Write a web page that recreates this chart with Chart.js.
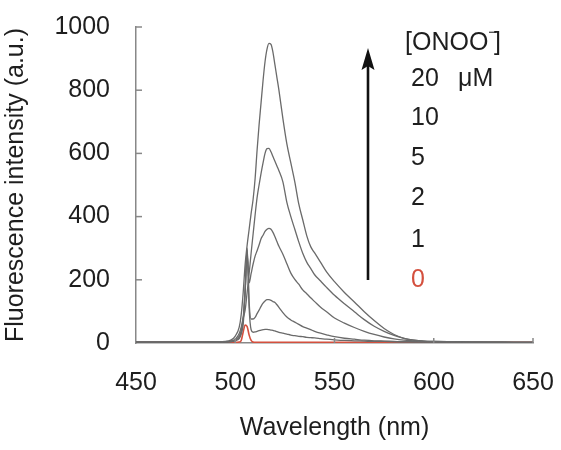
<!DOCTYPE html>
<html>
<head>
<meta charset="utf-8">
<script src="https://cdn.jsdelivr.net/npm/chart.js@4/dist/chart.umd.min.js"></script>
<style>
html,body{margin:0;padding:0;background:#fff;}
#wrap{width:561px;height:450px;}
</style>
</head>
<body>
<div id="wrap"><canvas id="c" width="561" height="450"></canvas></div>
<script>
const wavelengths = [450,460,470,480,490,495,498,500,502,503,504,505,506,507,508,509,510,511,512,513,514,515,516,517,518,519,520,521,522,524,526,528,530,532,534,536,538,540,543,546,550,555,560,565,570,575,580,585,590,595,600,610,620,630,640,650];

const conc20 = [3,3,3,3,4,5,10,22,50,90,160,250,310,360,410,455,520,610,690,760,830,890,930,948,945,920,880,840,800,710,630,570,510,440,390,340,305,285,255,225,194,160,130,99,71,46,27,15,9,6,5,4,3,3,2,2];
const conc10 = [3,3,3,3,3,4,7,12,30,50,80,105,160,220,285,345,405,460,500,537,570,600,615,616,605,590,575,560,545,510,445,400,360,320,284,256,236,216,196,176,151,124,99,74,53,37,24,15,9,6,5,4,3,3,2,2];
const conc5  = [3,3,3,3,3,3,6,10,22,40,80,170,280,190,220,250,275,292,310,330,341,353,360,363,360,350,336,321,306,281,251,221,201,186,168,156,143,131,113,99,79,63,49,37,27,19,13,9,7,5,4,4,3,3,2,2];
const conc2  = [3,3,3,3,3,3,5,8,18,32,70,170,300,130,76,76,81,93,104,116,126,133,137,137,135,131,128,121,113,96,82,73,66,59,52,47,42,37,31,26,20,15,12,9,7,6,5,4,4,3,3,3,3,2,2,2];
const conc1  = [3,3,3,3,3,3,4,7,14,28,60,160,295,110,42,34,35,37,39,41,42,43,43,42,41,40,38,36,34,31,28,25,23,21,20,18,17,16,14,12,10,8,7,6,5,5,4,4,3,3,3,3,2,2,2,2];
const conc0  = [2,2,2,2,2,2,2,2,3,8,35,57,52,25,8,3,2,2,2,2,2,2,2,2,2,2,2,2,2,2,2,2,2,2,2,2,2,2,2,2,2,2,2,2,2,2,2,2,2,2,2,2,2,2,2,2];

const seriesLabels = ["20","10","5","2","1","0"];
const xTicks = [450,500,550,600,650];
const yTicks = [0,200,400,600,800,1000];

function pts(vals){ return wavelengths.map((w,i)=>({x:w,y:vals[i]})); }

const GRAY = '#6a6a6a';
const RED = '#d4503e';
const TXT = '#1e1e1e';
const FONT = 'Liberation Sans, Arial, sans-serif';
const FS = 25;

const mk = (label, vals, color, w) => ({
  label, data: pts(vals), borderColor: color, borderWidth: w,
  pointRadius: 0, fill: false, cubicInterpolationMode: 'monotone'
});

const overlay = {
  id: 'overlay',
  afterDraw(chart){
    const ctx = chart.ctx;
    const xs = chart.scales.x, ys = chart.scales.y;
    ctx.save();
    ctx.strokeStyle = '#888'; ctx.lineWidth = 1.5;
    yTicks.forEach(v=>{ if(v===0) return; const y = ys.getPixelForValue(v);
      ctx.beginPath(); ctx.moveTo(xs.left, y); ctx.lineTo(xs.left+6, y); ctx.stroke(); });
    xTicks.forEach(v=>{ if(v===450) return; const x = xs.getPixelForValue(v);
      ctx.beginPath(); ctx.moveTo(x, ys.bottom); ctx.lineTo(x, ys.bottom-5); ctx.stroke(); });
    ctx.strokeStyle = '#111'; ctx.fillStyle = '#111'; ctx.lineWidth = 2.6;
    ctx.beginPath(); ctx.moveTo(368, 280); ctx.lineTo(368, 64); ctx.stroke();
    ctx.beginPath(); ctx.moveTo(368, 48); ctx.lineTo(361.5, 70); ctx.lineTo(368, 66); ctx.lineTo(374.5, 70); ctx.closePath(); ctx.fill();
    ctx.textBaseline = 'middle'; ctx.textAlign = 'left';
    ctx.font = FS + 'px ' + FONT; ctx.fillStyle = TXT;
    ctx.fillText('[ONOO', 405, 43);
    let w = ctx.measureText('[ONOO').width;
    ctx.font = '15px ' + FONT; ctx.fillText('\u2212', 405 + w, 33);
    let w2 = ctx.measureText('\u2212').width;
    ctx.font = FS + 'px ' + FONT; ctx.fillText(']', 405 + w + w2 - 3, 43);
    const ys2 = [79,118,158,198,240,280];
    seriesLabels.forEach((t,i)=>{
      ctx.fillStyle = (t==='0') ? RED : TXT;
      ctx.fillText(t, 411, ys2[i]);
    });
    ctx.fillStyle = TXT;
    ctx.fillText('\u03bcM', 458, 79);
    ctx.restore();
  }
};

new Chart(document.getElementById('c'), {
  type: 'line',
  data: { datasets: [
    mk('20 μM', conc20, GRAY, 1.3),
    mk('10 μM', conc10, GRAY, 1.3),
    mk('5 μM', conc5, GRAY, 1.3),
    mk('2 μM', conc2, GRAY, 1.3),
    mk('1 μM', conc1, GRAY, 1.3),
    mk('0 μM', conc0, RED, 1.6)
  ]},
  options: {
    responsive: false, animation: false,
    layout: { padding: { left: 0, right: 28, top: 27, bottom: 0 } },
    plugins: { legend: { display: false }, tooltip: { enabled: false } },
    scales: {
      x: {
        type: 'linear', min: 450, max: 650,
        afterBuildTicks: s => { s.ticks = xTicks.map(v=>({value:v})); },
        afterFit: s => { s.height = 107; s.paddingLeft = 0; s.paddingRight = 0; },
        grid: { drawOnChartArea: false, drawTicks: false },
        border: { color: '#888', width: 1.5 },
        ticks: { padding: 25, color: TXT, font: { family: FONT, size: FS }, callback: v => String(v) },
        title: { display: true, text: 'Wavelength (nm)', color: TXT,
                 font: { family: FONT, size: FS }, padding: { top: 0, bottom: 7 } }
      },
      y: {
        min: 0, max: 1000,
        afterBuildTicks: s => { s.ticks = yTicks.map(v=>({value:v})); },
        afterFit: s => { s.width = 136; s.paddingTop = 0; s.paddingBottom = 0; },
        grid: { drawOnChartArea: false, drawTicks: false },
        border: { color: '#888', width: 1.5 },
        ticks: { padding: 26, color: TXT, font: { family: FONT, size: FS }, callback: v => String(v) },
        title: { display: true, text: 'Fluorescence intensity (a.u.)', color: TXT,
                 font: { family: FONT, size: FS }, padding: { top: 1, bottom: 0 } }
      }
    }
  },
  plugins: [overlay]
});
</script>
</body>
</html>
